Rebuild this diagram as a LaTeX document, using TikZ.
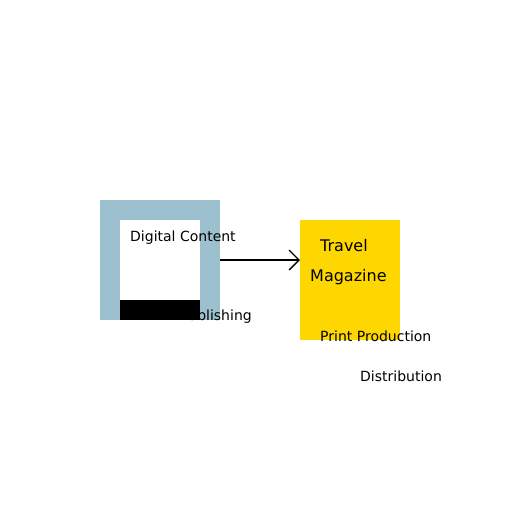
\documentclass[tikz,border=0pt]{standalone}
\usepackage{fontspec}
\setmainfont{DejaVu Sans}
\usetikzlibrary{arrows.meta}
\definecolor{frameblue}{HTML}{9CC0CD}
\definecolor{gold}{HTML}{FFD700}
\tikzset{
  lbl/.style={anchor=base west, inner sep=0pt, font=\fontsize{14pt}{16pt}\selectfont},
  biglbl/.style={anchor=base west, inner sep=0pt, font=\fontsize{16pt}{18pt}\selectfont},
  conn/.style={line width=1.3pt, -{Straight Barb[length=10pt,width=20pt,line width=1.3pt]}}
}
\begin{document}
\begin{tikzpicture}[x=1pt,y=-1pt]
\useasboundingbox (0,0) rectangle (512,512);
\fill[white] (0,0) rectangle (512,512);
% left frame
\fill[frameblue] (100,200) rectangle (220,320);
\fill[white] (120,220) rectangle (200,300);
\node[lbl] (pub) at (180,320) {Publishing};
\fill[black] (120,300) rectangle (200,320);
\node[lbl] (dig) at (130,241) {Digital Content};
\coordinate (frameR) at (220,260);
% right box
\fill[gold] (300,220) rectangle (400,340);
\coordinate (boxL) at (300,260);
\node[biglbl] (travel) at (320,251) {Travel};
\node[biglbl] (mag) at (310,281) {Magazine};
\node[lbl] (print) at (320,341) {Print Production};
\node[lbl] (dist) at (360,381) {Distribution};
\draw[conn] (frameR) -- (boxL);
\end{tikzpicture}
\end{document}
